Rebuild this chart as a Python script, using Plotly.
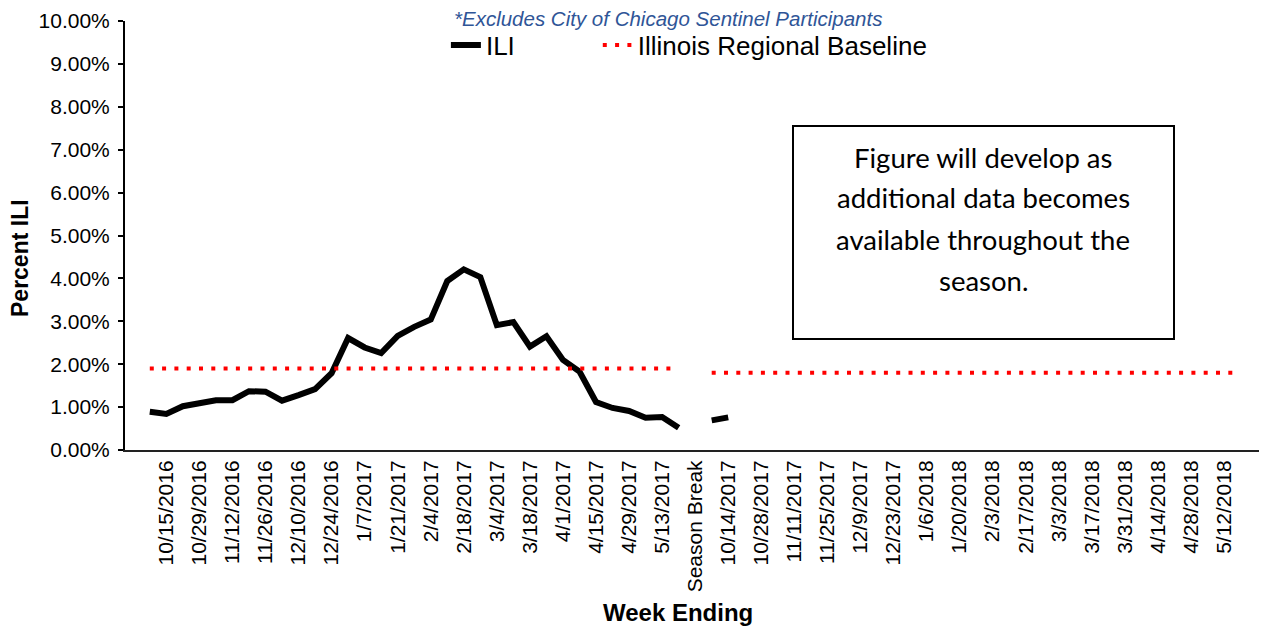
import plotly.graph_objects as go

# ---- categories (week ending) ----
season1_weeks = [
    "10/8/2016", "10/15/2016", "10/22/2016", "10/29/2016", "11/5/2016", "11/12/2016",
    "11/19/2016", "11/26/2016", "12/3/2016", "12/10/2016", "12/17/2016", "12/24/2016",
    "12/31/2016", "1/7/2017", "1/14/2017", "1/21/2017", "1/28/2017", "2/4/2017",
    "2/11/2017", "2/18/2017", "2/25/2017", "3/4/2017", "3/11/2017", "3/18/2017",
    "3/25/2017", "4/1/2017", "4/8/2017", "4/15/2017", "4/22/2017", "4/29/2017",
    "5/6/2017", "5/13/2017", "5/20/2017",
]
break_label = ["Season Break"]
season2_weeks = [
    "10/7/2017", "10/14/2017", "10/21/2017", "10/28/2017", "11/4/2017", "11/11/2017",
    "11/18/2017", "11/25/2017", "12/2/2017", "12/9/2017", "12/16/2017", "12/23/2017",
    "12/30/2017", "1/6/2018", "1/13/2018", "1/20/2018", "1/27/2018", "2/3/2018",
    "2/10/2018", "2/17/2018", "2/24/2018", "3/3/2018", "3/10/2018", "3/17/2018",
    "3/24/2018", "3/31/2018", "4/7/2018", "4/14/2018", "4/21/2018", "4/28/2018",
    "5/5/2018", "5/12/2018", "5/19/2018",
]
categories = season1_weeks + break_label + season2_weeks

# ---- tick labels shown on the axis ----
tick_labels = [
    "10/15/2016", "10/29/2016", "11/12/2016", "11/26/2016", "12/10/2016", "12/24/2016",
    "1/7/2017", "1/21/2017", "2/4/2017", "2/18/2017", "3/4/2017", "3/18/2017",
    "4/1/2017", "4/15/2017", "4/29/2017", "5/13/2017", "Season Break",
    "10/14/2017", "10/28/2017", "11/11/2017", "11/25/2017", "12/9/2017", "12/23/2017",
    "1/6/2018", "1/20/2018", "2/3/2018", "2/17/2018", "3/3/2018", "3/17/2018",
    "3/31/2018", "4/14/2018", "4/28/2018", "5/12/2018",
]

# ---- series values (percent) ----
ili_season1 = [
    0.89, 0.84, 1.02, 1.10, 1.16, 1.16, 1.37, 1.36, 1.15, 1.28, 1.42, 1.79,
    2.61, 2.39, 2.26, 2.66, 2.87, 3.04, 3.94, 4.21, 4.03, 2.91, 2.98, 2.41,
    2.65, 2.10, 1.83, 1.12, 0.98, 0.91, 0.75, 0.77, 0.52,
]
ili_season2 = [0.69, 0.76]
baseline_season1 = 1.90
baseline_season2 = 1.80

ili_y = ili_season1 + [None] + ili_season2 + [None] * (len(season2_weeks) - len(ili_season2))
base_y = [baseline_season1] * len(season1_weeks) + [None] + [baseline_season2] * len(season2_weeks)

FONT = "Arial, Liberation Sans, sans-serif"

fig = go.Figure()
fig.add_trace(go.Scatter(
    x=categories, y=ili_y, mode="lines", name="ILI",
    line=dict(color="black", width=6), connectgaps=False, legend="legend",
))
fig.add_trace(go.Scatter(
    x=categories, y=base_y, mode="lines", name="Illinois Regional Baseline",
    line=dict(color="#FF0000", width=4, dash="4px,8.3px"), connectgaps=False,
    legend="legend2",
))

# page has an 8px body margin; plot area spans page x 125..1267, y 21..450
PL, PT = 125, 21
PW, PH = 1142, 429

legend_common = dict(
    orientation="h", xanchor="left", y=0.944, yanchor="middle",
    font=dict(size=26, family=FONT, color="black"),
    bgcolor="rgba(0,0,0,0)", itemwidth=30,
)

fig.update_layout(
    width=1267, height=630, autosize=False,
    margin=dict(l=117, r=8, t=13, b=188, autoexpand=False),
    paper_bgcolor="white", plot_bgcolor="white",
    font=dict(family=FONT, color="black", size=21),
    showlegend=True,
    legend=dict(x=0.281, **legend_common),
    legend2=dict(x=0.414, **legend_common),
    xaxis=dict(
        type="category", categoryorder="array", categoryarray=categories,
        range=[-1.5, 67.6],
        tickmode="array", tickvals=tick_labels, ticktext=tick_labels,
        tickangle=-90, ticks="", showgrid=False, zeroline=False,
        showline=True, linecolor="#222", linewidth=2,
        tickfont=dict(size=21, family=FONT, color="black"),
    ),
    yaxis=dict(
        range=[0, 10], dtick=1, tick0=0, tickformat=".2f", ticksuffix="%",
        ticks="outside", ticklen=5, tickwidth=2, tickcolor="black",
        ticklabelstandoff=4,
        showgrid=False, zeroline=False,
        showline=True, linecolor="black", linewidth=2,
        tickfont=dict(size=21, family=FONT, color="black"),
    ),
)

# axis titles (placed as in the reference, off-centre)
fig.add_annotation(
    xref="paper", yref="paper", x=(678 - PL) / PW, y=(450 - 612) / PH,
    text="<b>Week Ending</b>", showarrow=False, xanchor="center", yanchor="middle",
    font=dict(size=24, family=FONT, color="black"),
)
fig.add_annotation(
    xref="paper", yref="paper", x=(20 - PL) / PW, y=(450 - 258) / PH,
    text="<b>Percent ILI</b>", showarrow=False, xanchor="center", yanchor="middle",
    textangle=-90, font=dict(size=23, family=FONT, color="black"),
)

# subtitle
fig.add_annotation(
    xref="paper", yref="paper", x=(668 - PL) / PW, y=(450 - 19) / PH,
    text="<i>*Excludes City of Chicago Sentinel Participants</i>", showarrow=False,
    xanchor="center", yanchor="middle",
    font=dict(size=20.5, family=FONT, color="#2F5597"),
)

# note box
fig.add_shape(
    type="rect", xref="paper", yref="paper",
    x0=(793 - PL) / PW, x1=(1174 - PL) / PW,
    y0=(450 - 339) / PH, y1=(450 - 126) / PH,
    line=dict(color="black", width=2), fillcolor="white", layer="above",
)
note_lines = ["Figure will develop as", "additional data becomes", "available throughout the", "season."]
note_line_px = [158, 197, 239, 280]
for line, py in zip(note_lines, note_line_px):
    fig.add_annotation(
        xref="paper", yref="paper", x=(983 - PL) / PW, y=(450 - py) / PH,
        text=line, showarrow=False, xanchor="center", yanchor="middle",
        font=dict(size=27.5, family="Lato, Carlito, Open Sans, sans-serif", color="black"),
    )

fig.write_html("out.html")
